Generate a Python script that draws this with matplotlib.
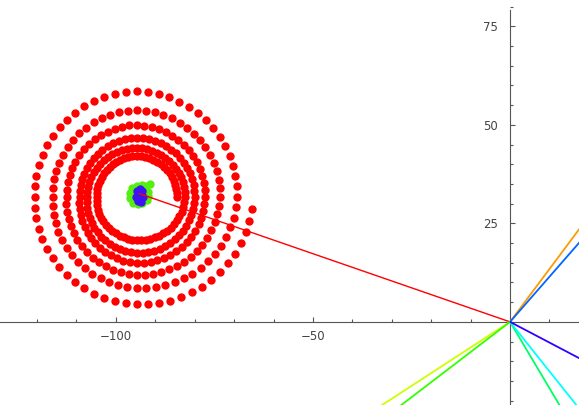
import numpy as np
import matplotlib
matplotlib.use("Agg")
import matplotlib.pyplot as plt
from matplotlib.ticker import MultipleLocator

# spiral of red dots: centre and radius read at every quarter turn
# (q = 0 right, 1 top, 2 left, 3 bottom, ...)
spiral_center = (-94.7, 31.7)
spiral_radius = [10.2, 10.4, 10.2, 10.9,
                 12.2, 12.4, 12.7, 14.2,
                 14.7, 15.0, 14.5, 16.8,
                 17.3, 18.3, 17.8, 19.8,
                 21.1, 22.1, 21.3, 23.1,
                 25.4, 26.9, 25.9, 27.2,
                 29.5]
dots_per_quarter = 15
spiral_end_quarter = 23.94

# cluster at the middle
green_center = (-94.2, 32.4)
green_dx = [2.3, 1.8, 0.8, -0.4, -1.6, -2.3, -2.1, -1.4, -0.3, 0.9, 2.0, 2.4,
            2.9, 0.0, 1.0, -1.0, 0.5, -0.8, 1.3, -1.5]
green_dy = [0.6, 2.0, 2.4, 2.2, 1.7, 0.3, -0.9, -2.1, -2.6, -2.2, -1.4, -0.5,
            2.5, 0.5, -1.0, 0.8, 1.2, -1.2, 0.9, 0.0]
blue_center = (-94.0, 32.0)
blue_dx = [0.7, 0.0, -0.7, -0.8, -0.4, 0.4, 0.9, 0.1, -0.2, 0.3, -0.5]
blue_dy = [1.3, 1.7, 1.1, -0.3, -1.4, -1.6, -0.4, 0.0, 0.8, 0.6, -0.8]

# rays from the origin: point where each one leaves the frame
ray_x = [-94.2, 17.9, -32.6, -27.7, 12.6, 16.9, 17.9, 17.9]
ray_y = [32.6, 24.0, -21.2, -21.2, -21.2, -21.2, 20.5, -9.4]
ray_colors = ["#ff0000", "#ff9900", "#ccff00", "#33ff00",
              "#00ff66", "#00ffff", "#0066ff", "#3300ff"]

fig = plt.figure(figsize=(5.79, 4.05), dpi=100)
ax = fig.add_axes([0, 0, 1, 1])

# spiral dots
quarters = np.arange(0, spiral_end_quarter, 1.0 / dots_per_quarter)
r = np.interp(quarters, np.arange(len(spiral_radius)), spiral_radius)
theta = quarters * np.pi / 2
ax.plot(spiral_center[0] + r * np.cos(theta), spiral_center[1] + r * np.sin(theta),
        "o", color="#ff0000", ms=6, mec="none", zorder=3)

ax.plot(green_center[0] + np.array(green_dx), green_center[1] + np.array(green_dy),
        "o", color="#55ee11", ms=6, mec="none", zorder=4)
ax.plot(blue_center[0] + np.array(blue_dx), blue_center[1] + np.array(blue_dy),
        "o", color="#3c14f0", ms=6, mec="none", zorder=5)

# rays (the red one stops at the cluster, the rest run off the frame)
for i, (x, y, c) in enumerate(zip(ray_x, ray_y, ray_colors)):
    k = 1.0 if i == 0 else 3.0
    ax.plot([0, k * x], [0, k * y], color=c, lw=1.0 if i == 0 else 1.3,
            zorder=6, solid_capstyle="butt")

ax.set_xlim(-129.4, 17.5)
ax.set_ylim(-21.1, 81.7)

# axes through the origin
axis_color = "#555555"
for side in ["top", "right"]:
    ax.spines[side].set_visible(False)
ax.spines["left"].set_position(("data", 0))
ax.spines["bottom"].set_position(("data", 0))
ax.spines["left"].set_bounds(-21.1, 79.2)
for side in ["left", "bottom"]:
    ax.spines[side].set_color(axis_color)
    ax.spines[side].set_linewidth(0.8)
    ax.spines[side].set_zorder(2)

ax.set_xticks([-100, -50])
ax.set_yticks([25, 50, 75])
ax.xaxis.set_minor_locator(MultipleLocator(10))
ax.yaxis.set_minor_locator(MultipleLocator(5))
ax.tick_params(which="both", direction="in", color=axis_color, width=0.8,
               labelsize=8.5, labelcolor="#444444")
ax.tick_params(which="major", length=3.5)
ax.tick_params(which="minor", length=2)
ax.tick_params(axis="x", pad=6)
ax.tick_params(axis="y", pad=9)
ax.patch.set_alpha(0)

fig.savefig("out.png", dpi=100)
